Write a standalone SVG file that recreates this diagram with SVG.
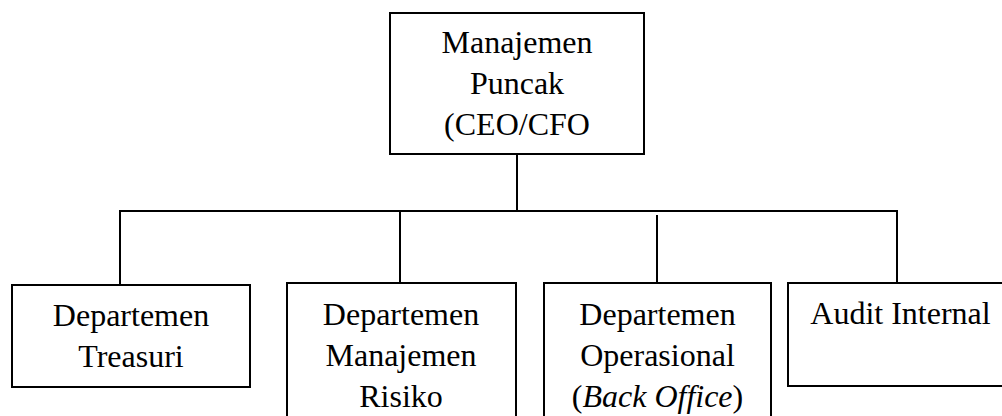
<svg xmlns="http://www.w3.org/2000/svg" width="1002" height="416" viewBox="0 0 1002 416">
<style>
.box{fill:#fff;stroke:#000;stroke-width:2}
.ln{stroke:#000;stroke-width:2;fill:none}
.t{font-family:'Liberation Serif','Times New Roman','DejaVu Serif',serif;font-size:32px;fill:#000;text-anchor:middle}
</style>
<rect width="1002" height="416" fill="#fff"/>
<g id="connectors">
<line class="ln" x1="517" y1="154" x2="517" y2="211"/>
<line class="ln" x1="119" y1="211" x2="898" y2="211"/>
<line class="ln" x1="120" y1="211" x2="120" y2="285"/>
<line class="ln" x1="400" y1="211" x2="400" y2="283"/>
<line class="ln" x1="657" y1="215" x2="657" y2="283"/>
<line class="ln" x1="897" y1="211" x2="897" y2="283"/>
</g>
<g id="top">
<rect class="box" x="390" y="13" width="254" height="141"/>
<text class="t" x="517" y="53" font-family="Liberation Serif">Manajemen</text>
<text class="t" x="517" y="94" font-family="Liberation Serif">Puncak</text>
<text class="t" x="517" y="135" font-family="Liberation Serif">(CEO/CFO</text>
</g>
<g id="treasuri">
<rect class="box" x="12" y="285" width="238" height="102"/>
<text class="t" x="131" y="326">Departemen</text>
<text class="t" x="131" y="367">Treasuri</text>
</g>
<g id="risiko">
<rect class="box" x="287" y="283" width="229" height="150"/>
<text class="t" x="401" y="325">Departemen</text>
<text class="t" x="401" y="366">Manajemen</text>
<text class="t" x="401" y="407">Risiko</text>
</g>
<g id="operasional">
<rect class="box" x="544" y="283" width="227" height="150"/>
<text class="t" x="657.5" y="325">Departemen</text>
<text class="t" x="657.5" y="366">Operasional</text>
<text class="t" x="657.5" y="407">(<tspan font-style="italic">Back Office</tspan>)</text>
</g>
<g id="audit">
<rect class="box" x="788" y="283" width="230" height="103"/>
<text class="t" x="900.5" y="324">Audit Internal</text>
</g>
</svg>
